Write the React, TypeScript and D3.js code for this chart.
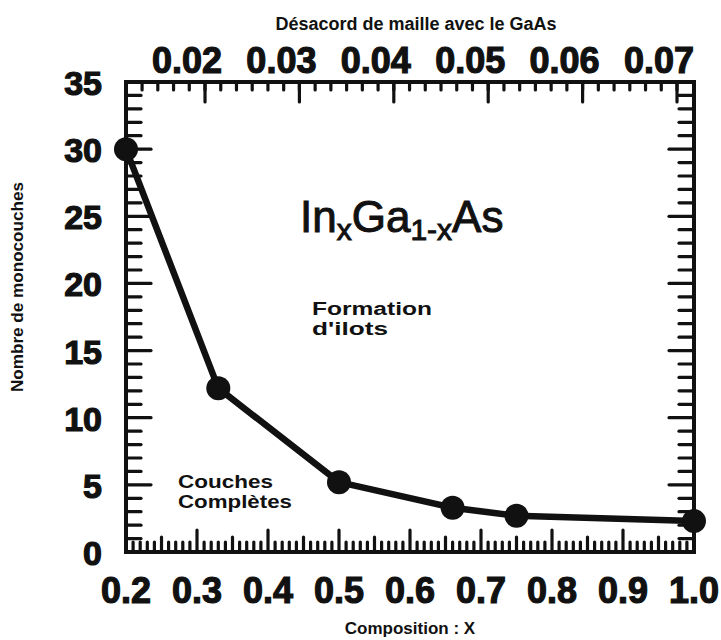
import React from "react";
import * as d3 from "d3";

// Critical thickness (monolayers) versus indium composition x
const composition = [0.2, 0.33, 0.5, 0.66, 0.75, 1.0];
const monolayers = [30, 12.2, 5.2, 3.3, 2.7, 2.3];

// Axis tick values
const xTickValues = [0.2, 0.3, 0.4, 0.5, 0.6, 0.7, 0.8, 0.9, 1.0];
const yTickValues = [0, 5, 10, 15, 20, 25, 30, 35];
const mismatchTickValues = [0.02, 0.03, 0.04, 0.05, 0.06, 0.07];

const W = 721;
const H = 640;
const box = { left: 126, right: 694, top: 82, bottom: 552 };
const FONT = "'Liberation Sans', Arial, Helvetica, sans-serif";
const INK = "#111";

export default function App() {
  const x = d3.scaleLinear().domain([0.2, 1.0]).range([box.left, box.right]);
  const y = d3.scaleLinear().domain([0, 35]).range([box.bottom, box.top]);
  // lattice mismatch with GaAs along the top edge
  const xm = d3.scaleLinear().domain([0.01163, 0.0718]).range([box.left, box.right]);

  const pts = composition.map((c, i) => [c, monolayers[i]] as [number, number]);
  const line = d3
    .line<[number, number]>()
    .x((d) => x(d[0]))
    .y((d) => y(d[1]));

  // bottom ticks: every 0.01, medium at 0.05, long at 0.1
  const bottomMinor = d3.range(0, 81).map((i) => 0.2 + i * 0.01);
  // left/right ticks: every 1, long at 5
  const sideMinor = d3.range(0, 36);
  // top ticks: sixths of 0.01
  const [m0, m1] = xm.domain();
  const topMinor = d3
    .range(-10, 40)
    .map((i) => 0.02 + (i * 0.01) / 6)
    .filter((v) => v > m0 + 0.0004 && v < m1 - 0.0004);

  const isMult = (v: number, step: number) => Math.abs(v / step - Math.round(v / step)) < 1e-6;

  return (
    <svg
      width={W}
      height={H}
      viewBox={`0 0 ${W} ${H}`}
      style={{ position: "absolute", left: 0, top: 0, background: "#fff" }}
      fontFamily={FONT}
    >
      <rect x={0} y={0} width={W} height={H} fill="#fff" />

      {/* ticks */}
      <g stroke={INK} strokeWidth={3.2} strokeLinecap="round">
        {bottomMinor.map((v, i) => {
          const len = isMult(v, 0.1) ? 22 : isMult(v, 0.05) ? 15 : 10;
          return <line key={"b" + i} x1={x(v)} x2={x(v)} y1={box.bottom} y2={box.bottom - len} />;
        })}
        {sideMinor.map((v) => {
          const len = v % 5 === 0 ? 25 : 15;
          return (
            <g key={"s" + v}>
              <line x1={box.left} x2={box.left + len} y1={y(v)} y2={y(v)} />
              <line x1={box.right} x2={box.right - len} y1={y(v)} y2={y(v)} />
            </g>
          );
        })}
        {topMinor.map((v, i) => (
          <line key={"t" + i} x1={xm(v)} x2={xm(v)} y1={box.top} y2={box.top + 8} />
        ))}
        {mismatchTickValues.map((v) => (
          <line key={"tm" + v} x1={xm(v)} x2={xm(v)} y1={box.top} y2={box.top + 20} />
        ))}
      </g>

      {/* frame */}
      <rect
        x={box.left}
        y={box.top}
        width={box.right - box.left}
        height={box.bottom - box.top}
        fill="none"
        stroke={INK}
        strokeWidth={4}
      />

      {/* data */}
      <path
        d={line(pts) || ""}
        fill="none"
        stroke={INK}
        strokeWidth={6.5}
        strokeLinejoin="round"
        strokeLinecap="round"
      />
      {pts.map((p, i) => (
        <circle key={"p" + i} cx={x(p[0])} cy={y(p[1])} r={12} fill={INK} />
      ))}

      {/* tick labels */}
      <g fill={INK} stroke={INK} strokeWidth={1.2} fontWeight="bold" fontSize={36}>
        {xTickValues.map((v) => (
          <text key={"xl" + v} x={x(v)} y={603} textAnchor="middle">
            {v.toFixed(1)}
          </text>
        ))}
        {yTickValues.map((v) => (
          <text key={"yl" + v} x={102} y={y(v) + 13} textAnchor="end" fontSize={34}>
            {v}
          </text>
        ))}
        {mismatchTickValues.map((v) => (
          <text key={"ml" + v} x={xm(v) - 18} y={73} textAnchor="middle">
            {v.toFixed(2)}
          </text>
        ))}
      </g>

      {/* axis titles */}
      <g fill={INK} fontWeight="bold">
        <text x={416} y={30} textAnchor="middle" fontSize={18}>
          Désacord de maille avec le GaAs
        </text>
        <text x={410} y={634} textAnchor="middle" fontSize={17}>
          Composition : X
        </text>
        <text
          transform="translate(23,287) rotate(-90)"
          textAnchor="middle"
          fontSize={17}
          textLength={210}
          lengthAdjust="spacingAndGlyphs"
        >
          Nombre de monocouches
        </text>
      </g>

      {/* annotations */}
      <text x={300} y={232} fontSize={44} fill={INK} stroke={INK} strokeWidth={1}>
        In
        <tspan fontSize={30} dy={8}>x</tspan>
        <tspan dy={-8}>Ga</tspan>
        <tspan fontSize={30} dy={8}>1-x</tspan>
        <tspan dy={-8}>As</tspan>
      </text>
      <g fill={INK} fontWeight="bold" fontSize={18}>
        <text x={312} y={315} textLength={120} lengthAdjust="spacingAndGlyphs">
          Formation
        </text>
        <text x={312} y={335} textLength={76} lengthAdjust="spacingAndGlyphs">
          d'ilots
        </text>
        <text x={178} y={488} textLength={95} lengthAdjust="spacingAndGlyphs">
          Couches
        </text>
        <text x={178} y={508} textLength={114} lengthAdjust="spacingAndGlyphs">
          Complètes
        </text>
      </g>
    </svg>
  );
}
